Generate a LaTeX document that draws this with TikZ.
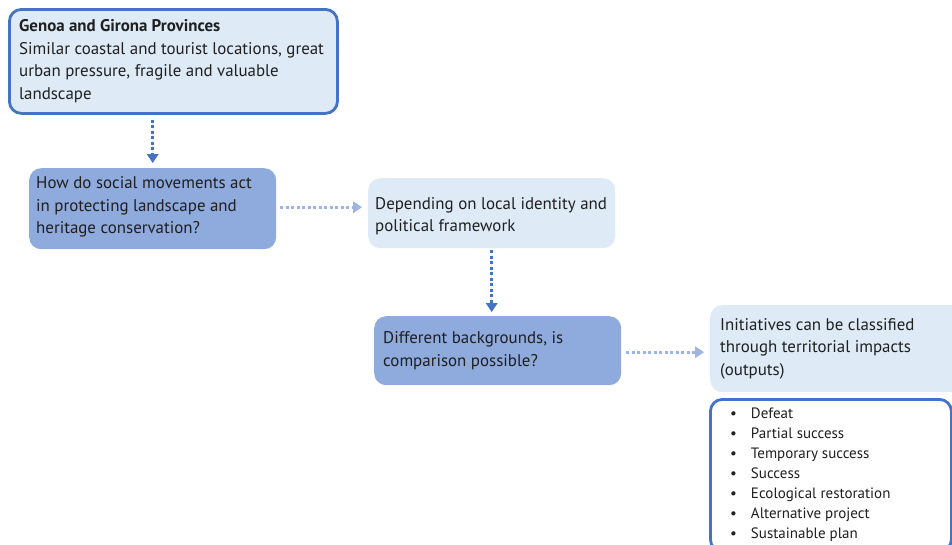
\documentclass[tikz,border=0pt]{standalone}
\usepackage{fontspec}
\setmainfont{PT Sans}
\usetikzlibrary{arrows.meta}
\definecolor{bdark}{HTML}{4472C4}
\definecolor{blight}{HTML}{DEEBF7}
\definecolor{bmid}{HTML}{8FAADC}
\definecolor{alight}{HTML}{9DB5E0}
\begin{document}
\begin{tikzpicture}[x=1pt,y=-1pt,
  shell/.style={rounded corners=12pt, anchor=north west, inner sep=0pt},
  lightbox/.style={shell, fill=blight},
  midbox/.style={shell, fill=bmid},
  framed/.style={shell, draw=bdark, line width=2.8pt},
  txt/.style={anchor=west, align=left, inner sep=0pt, text=black!88,
     font=\fontsize{16.9}{22.5}\selectfont},
  ltxt/.style={anchor=north west, align=left, inner sep=0pt, text=black!88,
     font=\fontsize{15}{20}\selectfont},
  dotarrow/.style={line width=3pt, dash pattern=on 3pt off 2.5pt,
     -{Triangle[width=12pt,length=9pt,line width=0pt]}},
  darkarrow/.style={dotarrow, draw=bdark, fill=bdark},
  lightarrow/.style={dotarrow, draw=alight, fill=alight},
]
\clip (0,0) rectangle (952,544);
% boxes
\node[lightbox, framed, fill=blight, minimum width=328pt, minimum height=104pt] (b1) at (8,8) {};
\node[midbox, minimum width=247pt, minimum height=81pt] (b2) at (29,168) {};
\node[lightbox, minimum width=247pt, minimum height=70pt] (b3) at (368,178) {};
\node[midbox, minimum width=247pt, minimum height=69pt] (b4) at (374,316) {};
\node[lightbox, minimum width=262pt, minimum height=87pt] (b5) at (710,305) {};
\node[framed, fill=white, minimum width=241pt, minimum height=152pt] (b6) at (709,398) {};
% texts
\node[txt] (t1) at ([xshift=11pt]b1.west) {\textbf{Genoa and Girona Provinces}\\Similar coastal and tourist locations, great\\urban pressure, fragile and valuable\\landscape};
\node[txt] (t2) at ([xshift=7pt,yshift=1.5pt]b2.west) {How do social movements act\\in protecting landscape and\\heritage conservation?};
\node[txt] (t3) at ([xshift=7pt,yshift=-3pt]b3.west) {Depending on local identity and\\political framework};
\node[txt] (t4) at ([xshift=9pt]b4.west) {Different backgrounds, is\\comparison possible?};
\node[txt] (t5) at ([xshift=10pt]b5.west) {Initiatives can be classified\\through territorial impacts\\(outputs)};
\node[ltxt] (t6) at ([xshift=21pt,yshift=-9.5pt]b6.north west) {\textbullet\hspace{14pt}Defeat\\
\textbullet\hspace{14pt}Partial success\\
\textbullet\hspace{14pt}Temporary success\\
\textbullet\hspace{14pt}Success\\
\textbullet\hspace{14pt}Ecological restoration\\
\textbullet\hspace{14pt}Alternative project\\
\textbullet\hspace{14pt}Sustainable plan};
% connectors
\draw[darkarrow, shorten <=5pt, shorten >=5pt] (b2.north |- b1.south) -- (b2.north);
\draw[lightarrow, shorten <=4pt, shorten >=6pt] ([yshift=1.5pt]b2.east) -- ([yshift=1.5pt]b2.east -| b3.west);
\draw[darkarrow, shorten <=2pt, shorten >=4pt] (b3.south) -- (b3.south |- b4.north);
\draw[lightarrow, shorten <=5pt, shorten >=6pt] ([yshift=-1.5pt]b4.east) -- ([yshift=-1.5pt]b4.east -| b5.west);
\end{tikzpicture}
\end{document}
